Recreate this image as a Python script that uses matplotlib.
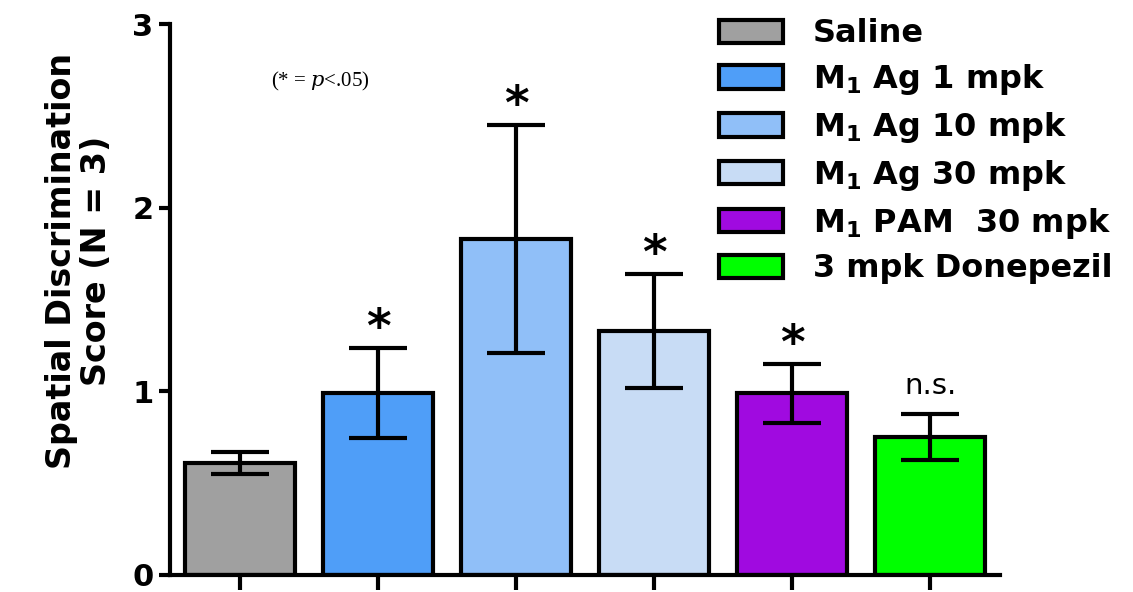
import matplotlib
matplotlib.use('Agg')
import matplotlib.pyplot as plt
import numpy as np

# group names, means and SEM
groups = ['Saline', 'M$_\\mathbf{1}$ Ag 1 mpk', 'M$_\\mathbf{1}$ Ag 10 mpk',
          'M$_\\mathbf{1}$ Ag 30 mpk', 'M$_\\mathbf{1}$ PAM  30 mpk', '3 mpk Donepezil']
means = [0.61, 0.99, 1.83, 1.33, 0.99, 0.75]
sems = [0.06, 0.245, 0.62, 0.31, 0.16, 0.125]
colors = ['#a0a0a0', '#4f9ef8', '#90bff8', '#c8dcf5', '#a00ae0', '#00ff00']
marks = ['', '*', '*', '*', '*', 'n.s.']

plt.rcParams['mathtext.fontset'] = 'dejavusans'

fig = plt.figure(figsize=(11.33, 5.92), dpi=100)
ax = fig.add_axes([0.150, 0.029, 0.733, 0.930])

x = np.arange(len(groups))
bars = ax.bar(x, means, width=0.8, color=colors, edgecolor='black',
              linewidth=3, label=groups, zorder=2)
ax.errorbar(x, means, yerr=sems, fmt='none', ecolor='black', elinewidth=3,
            capsize=21, capthick=3, zorder=3)

for xi, m, s, t in zip(x, means, sems, marks):
    if t == '*':
        ax.text(xi, m + s + 0.1, t, ha='center', va='center',
                fontsize=34, fontweight='bold')
    elif t:
        ax.text(xi, m + s + 0.08, t, ha='center', va='bottom', fontsize=21)

ax.text(0.58, 2.69, '(* = $p$<.05)', ha='center', va='center', fontsize=15,
        family='Liberation Serif', math_fontfamily='dejavuserif')

ax.set_xlim(-0.51, 5.51)
ax.set_ylim(0, 3)
ax.set_yticks([0, 1, 2, 3])
ax.set_xticks(x)
ax.set_xticklabels([])
for s in ['top', 'right']:
    ax.spines[s].set_visible(False)
for s in ['left', 'bottom']:
    ax.spines[s].set_linewidth(3)
ax.tick_params(axis='y', length=8, width=3, labelsize=22, pad=4)
ax.tick_params(axis='x', length=11, width=3)
for lab in ax.get_yticklabels():
    lab.set_fontweight('bold')

ax.set_ylabel('Spatial Discrimination\nScore (N = 3)', fontsize=24,
              fontweight='bold', linespacing=1.1)
ax.yaxis.set_label_coords(-0.068, 0.57)

fig.legend(handles=bars, labels=groups, loc='upper left',
           bbox_to_anchor=(0.626, 0.985), frameon=False, prop={'weight': 'bold', 'size': 23},
           handlelength=2.0, handleheight=0.75, handletextpad=0.95,
           labelspacing=0.40, borderpad=0.3, borderaxespad=0)

fig.savefig('out.png', dpi=100)
